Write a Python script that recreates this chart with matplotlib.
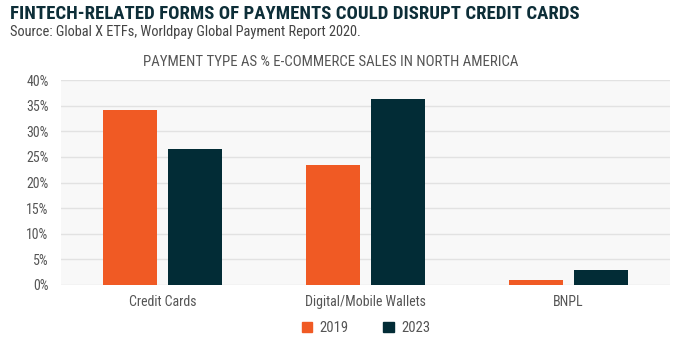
import numpy as np
import matplotlib.pyplot as plt
from matplotlib.patches import Patch

categories = ['Credit Cards', 'Digital/Mobile Wallets', 'BNPL']
years = ['2019', '2023']
vals_2019 = [34.1, 23.4, 1.0]
vals_2023 = [26.5, 36.3, 2.9]
yticks = [0, 5, 10, 15, 20, 25, 30, 35, 40]

colors = ['#f05a24', '#022c36']
narrow = ['Liberation Sans Narrow', 'Roboto Condensed', 'Roboto', 'DejaVu Sans']
plt.rcParams['font.family'] = narrow


def main():
    fig = plt.figure(figsize=(6.78, 3.41), dpi=100)
    ax = fig.add_axes([61 / 678, 1 - 285 / 341, 609 / 678, 205 / 341])
    ax.set_facecolor('#f8f8f8')

    x = np.arange(len(categories))
    w = 0.27
    ax.bar(x - 0.16, vals_2019, w, color=colors[0], zorder=3)
    ax.bar(x + 0.16, vals_2023, w, color=colors[1], zorder=3)

    ax.set_xlim(-0.5, 2.5)
    ax.set_ylim(0, 40)
    ax.set_yticks(yticks)
    ax.set_yticklabels([f'{v}%' for v in yticks])
    ax.set_xticks(x)
    ax.set_xticklabels(categories)
    ax.tick_params(length=0, labelsize=10, colors='#555555', pad=7)
    ax.tick_params(axis='y', pad=9)
    ax.grid(axis='y', color='#e2e2e2', lw=1, zorder=0)
    for s in ax.spines.values():
        s.set_visible(False)

    fig.text(10 / 678, 1 - 14 / 341, 'FINTECH-RELATED FORMS OF PAYMENTS COULD DISRUPT CREDIT CARDS',
             fontsize=13.5, fontweight='bold', color='#0d2e38', va='center', ha='left')
    fig.text(10 / 678, 1 - 32 / 341, 'Source: Global X ETFs, Worldpay Global Payment Report 2020.',
             fontsize=10.4, color='#444444', va='center', ha='left')
    fig.text(331 / 678, 1 - 62 / 341, 'PAYMENT TYPE AS % E-COMMERCE SALES IN NORTH AMERICA',
             fontsize=10.7, color='#555555', va='center', ha='center')

    handles = [Patch(color=colors[0], label=years[0]), Patch(color=colors[1], label=years[1])]
    fig.legend(handles=handles, loc='center', bbox_to_anchor=(366 / 678, 1 - 328 / 341), ncol=2,
               frameon=False, fontsize=10.5, labelcolor='#555555', handlelength=0.7, handleheight=0.7,
               columnspacing=2.4, handletextpad=0.5)

    fig.savefig('out.png', dpi=100)


if __name__ == "__main__":
    main()
